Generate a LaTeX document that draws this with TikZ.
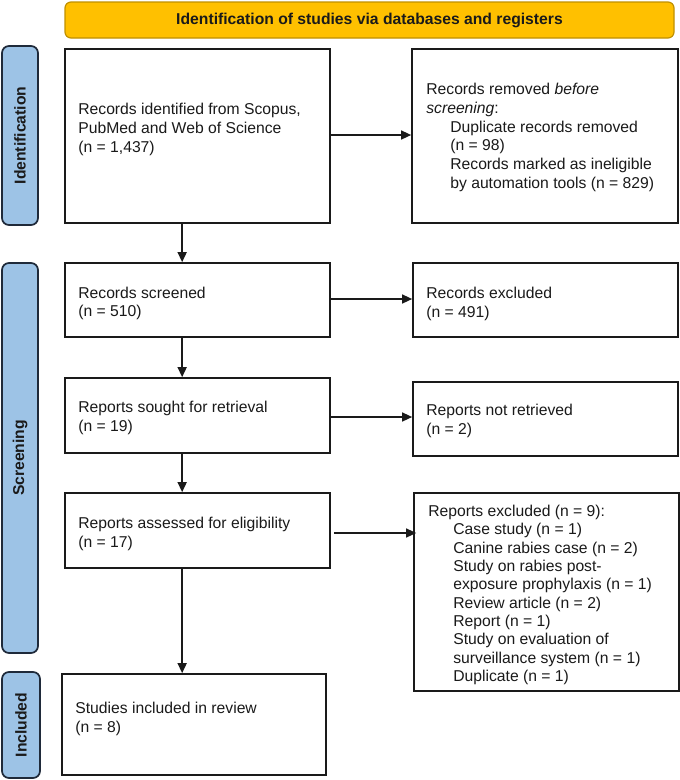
\documentclass[tikz,border=0pt]{standalone}
\usepackage{fontspec}
\setmainfont{Liberation Sans}
\usetikzlibrary{arrows.meta,calc}
\definecolor{bannerfill}{HTML}{FFC000}
\definecolor{bannerdraw}{HTML}{C09000}
\definecolor{labfill}{HTML}{9DC3E6}
\definecolor{labdraw}{HTML}{1F2A3A}
\definecolor{ink}{HTML}{1A1A1A}
\begin{document}
\begin{tikzpicture}[x=1pt,y=1pt,
  box/.style={draw=ink, line width=1.7pt, fill=white, inner sep=0pt},
  txt/.style={inner sep=0pt, align=left, anchor=west, font=\fontsize{15.7}{18.8}\selectfont, text=ink},
  lab/.style={draw=labdraw, fill=labfill, line width=1.7pt, rounded corners=7pt, inner sep=0pt},
  labtxt/.style={rotate=90, inner sep=0pt, text=ink, font=\bfseries\fontsize{15.7}{18.8}\selectfont},
  arr/.style={draw=ink, line width=1.5pt, -{Triangle[length=10pt,width=9pt]}}
]
\useasboundingbox (0,0) rectangle (680,-780);

% banner
\node[draw=bannerdraw, fill=bannerfill, line width=1.2pt, rounded corners=6pt,
      minimum width=609pt, minimum height=36pt, inner sep=0pt] (banner) at (369.5,-20) {};
\node[labtxt, rotate=-90] (bannertxt) at (banner.center) {Identification of studies via databases and registers};

% side labels
\node[lab, minimum width=36pt, minimum height=179pt] (L1) at (20,-135.5) {};
\node[labtxt] (L1t) at (L1.center) {Identification};
\node[lab, minimum width=36pt, minimum height=390pt] (L2) at (20,-458) {};
\node[labtxt] (L2t) at (L2.center) {Screening};
\node[lab, minimum width=38pt, minimum height=106pt] (L3) at (21,-725) {};
\node[labtxt] (L3t) at (L3.center) {Included};

% boxes
\node[box, minimum width=265pt, minimum height=174pt] (b1) at (197.5,-136) {};
\node[box, minimum width=266pt, minimum height=174pt] (r1) at (545,-136) {};
\node[box, minimum width=265pt, minimum height=74pt] (b2) at (197.5,-300) {};
\node[box, minimum width=265pt, minimum height=74pt] (r2) at (545.5,-300) {};
\node[box, minimum width=265pt, minimum height=75pt] (b3) at (197.5,-415.5) {};
\node[box, minimum width=265pt, minimum height=74pt] (r3) at (545.5,-419) {};
\node[box, minimum width=265pt, minimum height=75pt] (b4) at (197.5,-530.5) {};
\node[box, minimum width=265pt, minimum height=198pt] (r4) at (546.5,-592) {};
\node[box, minimum width=264pt, minimum height=101pt] (b5) at (194,-724.5) {};

% texts
\node[txt] (t1) at ([xshift=14pt,yshift=6.5pt]b1.west)
  {Records identified from Scopus,\\PubMed and Web of Science\\(n = 1,437)};
\node[txt] (tr1) at ([xshift=15pt,yshift=-1.5pt]r1.west)
  {Records removed \textit{before}\\\textit{screening}:\\
   \hspace*{24pt}Duplicate records removed\\
   \hspace*{24pt}(n = 98)\\
   \hspace*{24pt}Records marked as ineligible\\
   \hspace*{24pt}by automation tools (n = 829)};
\node[txt] (t2) at ([xshift=14pt,yshift=-3.5pt]b2.west) {Records screened\\(n = 510)};
\node[txt] (tr2) at ([xshift=14pt,yshift=-4pt]r2.west) {Records excluded\\(n = 491)};
\node[txt] (t3) at ([xshift=14pt,yshift=-2.5pt]b3.west) {Reports sought for retrieval\\(n = 19)};
\node[txt] (tr3) at ([xshift=14pt,yshift=-2pt]r3.west) {Reports not retrieved\\(n = 2)};
\node[txt] (t4) at ([xshift=14pt,yshift=-3.5pt]b4.west) {Reports assessed for eligibility\\(n = 17)};
\node[txt, font=\fontsize{15.7}{18.35}\selectfont] (tr4) at ([xshift=15pt,yshift=-3pt]r4.west)
  {Reports excluded (n = 9):\\
   \hspace*{25pt}Case study (n = 1)\\
   \hspace*{25pt}Canine rabies case (n = 2)\\
   \hspace*{25pt}Study on rabies post-\\
   \hspace*{25pt}exposure prophylaxis (n = 1)\\
   \hspace*{25pt}Review article (n = 2)\\
   \hspace*{25pt}Report (n = 1)\\
   \hspace*{25pt}Study on evaluation of\\
   \hspace*{25pt}surveillance system (n = 1)\\
   \hspace*{25pt}Duplicate (n = 1)};
\node[txt] (t5) at ([xshift=14pt,yshift=5.5pt]b5.west) {Studies included in review\\(n = 8)};

% vertical arrows
\draw[arr] ([xshift=118pt]b1.south west) -- ([xshift=118pt]b1.south west |- b2.north);
\draw[arr] ([xshift=118pt]b2.south west) -- ([xshift=118pt]b2.south west |- b3.north);
\draw[arr] ([xshift=118pt]b3.south west) -- ([xshift=118pt]b3.south west |- b4.north);
\draw[arr] ([xshift=118pt]b4.south west) -- ([xshift=118pt]b4.south west |- b5.north);

% horizontal arrows
\draw[arr] ([yshift=1pt]b1.east) -- ([yshift=1pt]b1.east -| r1.west);
\draw[arr] ([yshift=1pt]b2.east) -- ([yshift=1pt]b2.east -| r2.west);
\draw[arr] ([yshift=-1.5pt]b3.east) -- ([yshift=-1.5pt]b3.east -| r3.west);
\draw[arr] ([xshift=3pt,yshift=-2.5pt]b4.east) -- ([xshift=3pt,yshift=-2.5pt]b4.east -| r4.west);
\end{tikzpicture}
\end{document}
